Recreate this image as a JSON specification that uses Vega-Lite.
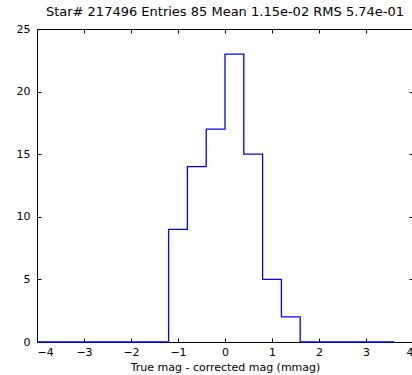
{
  "$schema": "https://vega.github.io/schema/vega-lite/v6.json",
  "width": 376,
  "height": 313,
  "autosize": "none",
  "padding": {"left": 37, "top": 29, "right": 0, "bottom": 33},
  "background": "white",
  "config": {
    "font": "DejaVu Sans",
    "view": {"stroke": "#000", "strokeWidth": 1},
    "axis": {"grid": false, "domain": false, "tickColor": "#000", "labelColor": "#000", "labelFontSize": 11, "labelFont": "DejaVu Sans", "titleFont": "DejaVu Sans", "titleFontWeight": "normal", "titleFontSize": 11, "titleColor": "#000"}
  },
  "title": {"text": "Star# 217496 Entries 85 Mean 1.15e-02 RMS 5.74e-01", "fontSize": 13, "font": "DejaVu Sans", "fontWeight": "normal", "color": "#000", "anchor": "middle", "offset": 4},
  "data": {"values": [
    {"edge": -4.0, "count": 0}, {"edge": -3.6, "count": 0}, {"edge": -3.2, "count": 0},
    {"edge": -2.8, "count": 0}, {"edge": -2.4, "count": 0}, {"edge": -2.0, "count": 0},
    {"edge": -1.6, "count": 0}, {"edge": -1.2, "count": 9}, {"edge": -0.8, "count": 14},
    {"edge": -0.4, "count": 17}, {"edge": 0.0, "count": 23}, {"edge": 0.4, "count": 15},
    {"edge": 0.8, "count": 5}, {"edge": 1.2, "count": 2}, {"edge": 1.6, "count": 0},
    {"edge": 2.0, "count": 0}, {"edge": 2.4, "count": 0}, {"edge": 2.8, "count": 0},
    {"edge": 3.2, "count": 0}, {"edge": 3.6, "count": 0}
  ]},
  "layer": [
    {
      "mark": {"type": "line", "interpolate": "step-after", "color": "#0000ff", "strokeWidth": 1.3},
      "encoding": {
        "x": {"field": "edge", "type": "quantitative", "scale": {"domain": [-4, 4], "nice": false, "zero": false},
          "axis": {"orient": "bottom", "values": [-4, -3, -2, -1, 0, 1, 2, 3, 4], "tickSize": -4, "labelPadding": 8, "title": "True mag - corrected mag (mmag)", "titlePadding": 4, "labelExpr": "replace(datum.label, '-', '\u2212')"}},
        "y": {"field": "count", "type": "quantitative", "scale": {"domain": [0, 25], "nice": false},
          "axis": {"orient": "left", "values": [0, 5, 10, 15, 20, 25], "tickSize": -4, "labelPadding": 11, "title": null}}
      }
    },
    {
      "mark": {"type": "point", "opacity": 0},
      "encoding": {
        "x": {"field": "edge", "type": "quantitative", "axis": {"orient": "top", "values": [-4, -3, -2, -1, 0, 1, 2, 3, 4], "tickSize": -4, "labels": false, "title": null}},
        "y": {"field": "count", "type": "quantitative", "axis": {"orient": "right", "values": [0, 5, 10, 15, 20, 25], "tickSize": -4, "labels": false, "title": null}}
      }
    }
  ],
  "resolve": {"axis": {"x": "independent", "y": "independent"}}
}
